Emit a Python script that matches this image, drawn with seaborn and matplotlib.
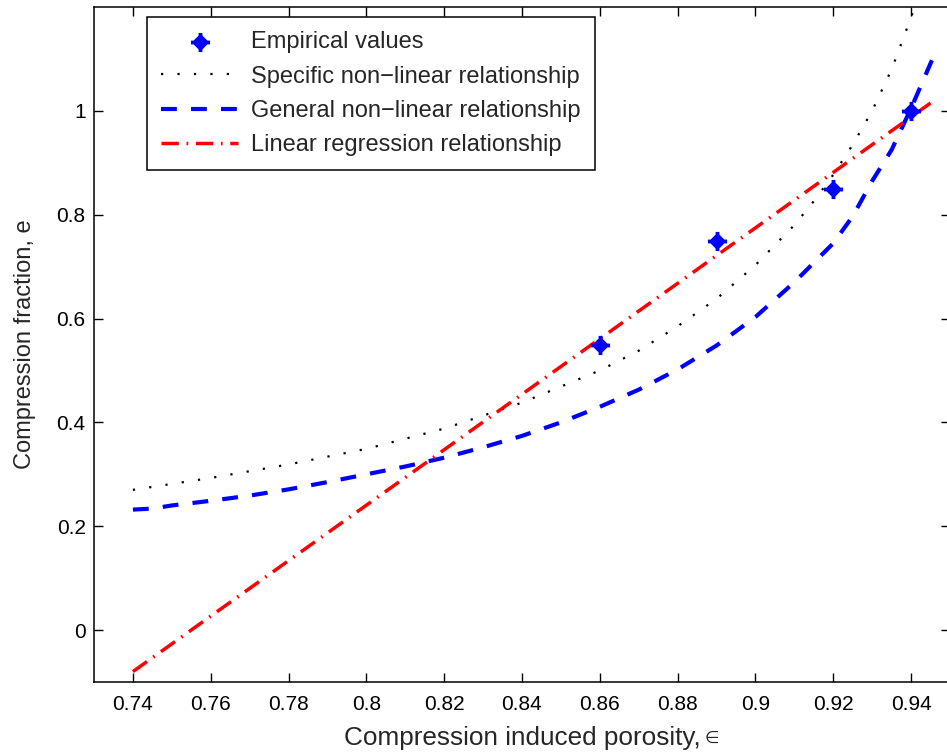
import numpy as np
import pandas as pd
import matplotlib
matplotlib.use("Agg")
import matplotlib.pyplot as plt
import seaborn as sns
from matplotlib.ticker import FixedLocator, FixedFormatter

# Measured compression data
emp_x = [0.86, 0.89, 0.92, 0.94]
emp_y = [0.55, 0.75, 0.85, 1.00]

# Specific non-linear relationship
spec_x = [0.74, 0.76, 0.78, 0.80, 0.82, 0.84, 0.86, 0.87, 0.88, 0.89, 0.90,
          0.91, 0.915, 0.92, 0.925, 0.93, 0.935, 0.94, 0.945]
spec_y = [0.270, 0.293, 0.319, 0.349, 0.388, 0.438, 0.500, 0.538, 0.585, 0.638,
          0.703, 0.780, 0.826, 0.877, 0.935, 1.000, 1.080, 1.180, 1.290]

# General non-linear relationship
gen_x = [0.74, 0.745, 0.75, 0.76, 0.77, 0.78, 0.79, 0.80, 0.81, 0.82, 0.83,
         0.84, 0.85, 0.86, 0.87, 0.88, 0.89, 0.90, 0.91, 0.92, 0.925, 0.93,
         0.935, 0.94, 0.9455]
gen_y = [0.232, 0.234, 0.240, 0.249, 0.259, 0.271, 0.285, 0.300, 0.315, 0.332,
         0.352, 0.374, 0.400, 0.430, 0.463, 0.502, 0.548, 0.603, 0.670, 0.745,
         0.797, 0.865, 0.925, 1.005, 1.100]

# Linear regression relationship
lin_x = [0.74, 0.945]
lin_y = [-0.08, 1.015]

x_ticks = [0.74, 0.76, 0.78, 0.80, 0.82, 0.84, 0.86, 0.88, 0.90, 0.92, 0.94]
x_tick_labels = ["0.74", "0.76", "0.78", "0.8", "0.82", "0.84", "0.86",
                 "0.88", "0.9", "0.92", "0.94"]
y_ticks = [0.0, 0.2, 0.4, 0.6, 0.8, 1.0]
y_tick_labels = ["0", "0.2", "0.4", "0.6", "0.8", "1"]

sns.set_style("white")
plt.rcParams["font.family"] = ["Liberation Sans", "DejaVu Sans"]
plt.rcParams["axes.edgecolor"] = "black"
plt.rcParams["axes.linewidth"] = 1.1

W, H = 947, 753
fig = plt.figure(figsize=(W / 100, H / 100), dpi=100)
left, right, top, bottom = 94, 950, 7, 682
ax = fig.add_axes([left / W, (H - bottom) / H, (right - left) / W, (bottom - top) / H])

sns.lineplot(x=spec_x, y=spec_y, ax=ax, color="black", lw=1.6,
             linestyle=(0, (1.0, 6.4)), label="Specific non\u2212linear relationship",
             sort=False, zorder=2)
sns.lineplot(x=gen_x, y=gen_y, ax=ax, color="#0000ff", lw=3.0,
             linestyle=(0, (3.8, 3.4)), label="General non\u2212linear relationship",
             sort=False, zorder=3)
sns.lineplot(x=lin_x, y=lin_y, ax=ax, color="#ff0000", lw=2.5,
             linestyle=(0, (5.0, 2.2, 0.5, 2.2)), label="Linear regression relationship",
             sort=False, zorder=4)

# filled diamond with a plus through it
a, d = 0.2, 0.72
mk = [(-a, 1), (a, 1), (a, d), (d, a), (1, a), (1, -a), (d, -a), (a, -d),
      (a, -1), (-a, -1), (-a, -d), (-d, -a), (-1, -a), (-1, a), (-d, a),
      (-a, d), (-a, 1)]
sns.scatterplot(x=emp_x, y=emp_y, ax=ax, marker=mk, s=190, color="#0000ff",
                edgecolor="#0000ff", linewidth=0, label="Empirical values", zorder=5)

ax.set_xlim(0.73, 0.95)
ax.set_ylim(-0.1, 1.2)
ax.xaxis.set_major_locator(FixedLocator(x_ticks))
ax.xaxis.set_major_formatter(FixedFormatter(x_tick_labels))
ax.yaxis.set_major_locator(FixedLocator(y_ticks))
ax.yaxis.set_major_formatter(FixedFormatter(y_tick_labels))
ax.tick_params(axis="both", which="major", direction="in", length=6.5, width=1.0,
               bottom=True, left=True, top=True, right=True, labelsize=15,
               color="black", labelcolor="black")
ax.tick_params(axis="x", pad=9)
ax.tick_params(axis="y", pad=6)
for s in ax.spines.values():
    s.set_visible(True)
    s.set_color("black")

ax.set_xlabel("Compression induced porosity,", fontsize=18.8, labelpad=9)
ax.set_ylabel("Compression fraction, e", fontsize=17, labelpad=15)
# small epsilon-like symbol trailing the x label
ax.annotate("\u2208", xy=(1, 0), xycoords=ax.xaxis.label, xytext=(3, 2.5),
            textcoords="offset points", fontsize=12, ha="left", va="bottom",
            family=["DejaVu Sans"])

handles, labels = ax.get_legend_handles_labels()
order = [labels.index(l) for l in ["Empirical values",
                                   "Specific non\u2212linear relationship",
                                   "General non\u2212linear relationship",
                                   "Linear regression relationship"]]
leg = ax.legend([handles[i] for i in order], [labels[i] for i in order],
                loc="upper left", bbox_to_anchor=(0.062, 0.985), borderaxespad=0,
                fontsize=17, frameon=True, fancybox=False, edgecolor="black",
                framealpha=1, handlelength=3.25, handletextpad=0.55,
                labelspacing=0.52, borderpad=0.6)
leg.get_frame().set_linewidth(1.1)

fig.savefig("out.png", dpi=100)
